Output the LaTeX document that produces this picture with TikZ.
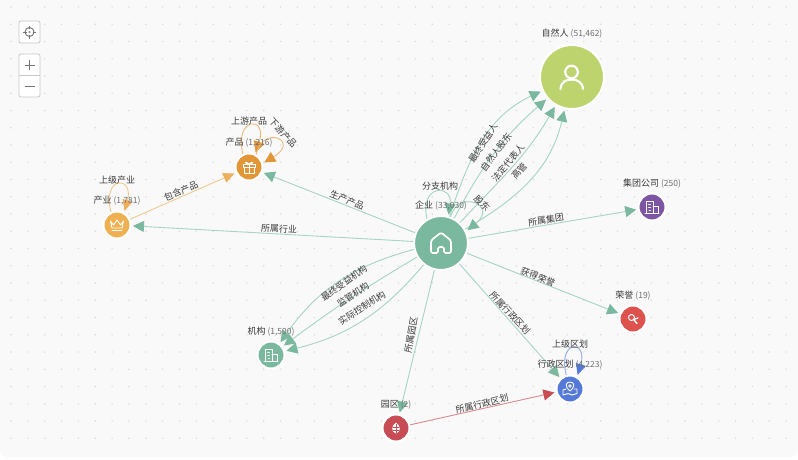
\documentclass[tikz,border=0pt]{standalone}
\usepackage{fontspec}
\setmainfont{Noto Sans CJK SC}
\usetikzlibrary{arrows.meta}
\definecolor{bgc}{HTML}{F9F9F9}
\definecolor{dotc}{HTML}{DADADA}
\definecolor{txt}{HTML}{3A3A3A}
\definecolor{cnt}{HTML}{707070}
\definecolor{gline}{HTML}{A6D5C2}
\definecolor{gtip}{HTML}{7AB8A0}
\definecolor{oline}{HTML}{F3C98F}
\definecolor{otip}{HTML}{EDB05A}
\definecolor{pline}{HTML}{EDB878}
\definecolor{ptip}{HTML}{E19638}
\definecolor{bline}{HTML}{93ABEA}
\definecolor{btip}{HTML}{5579D8}
\definecolor{rline}{HTML}{DB8A8F}
\definecolor{rtip}{HTML}{C84C54}
\definecolor{cPerson}{HTML}{BCD36E}
\definecolor{cProd}{HTML}{E19638}
\definecolor{cInd}{HTML}{EEB050}
\definecolor{cPark}{HTML}{C84C54}
\definecolor{cReg}{HTML}{5579D8}
\definecolor{cGrp}{HTML}{7D55A3}
\definecolor{cHon}{HTML}{DD524C}
\tikzset{
  ent/.style={circle,draw=white,line width=2pt,inner sep=0pt,minimum size=#1},
  nlab/.style={font=\fontsize{9}{10}\selectfont,text=txt,inner sep=0pt},
  elab/.style={font=\fontsize{9}{10}\selectfont,text=txt,inner sep=0pt},
  link/.style={line width=0.9pt,shorten >=1.5pt},
  gedge/.style={link,draw=gline,-{Triangle[length=11pt,width=11pt,fill=gtip,color=gtip]}},
  oedge/.style={link,draw=oline,-{Triangle[length=11pt,width=10pt,fill=otip,color=otip]}},
  pedge/.style={link,draw=pline,-{Triangle[length=11pt,width=11pt,fill=ptip,color=ptip]}},
  bedge/.style={link,draw=bline,-{Triangle[length=11pt,width=10pt,fill=btip,color=btip]}},
  redge/.style={link,draw=rline,-{Triangle[length=11pt,width=11pt,fill=rtip,color=rtip]}},
  icon/.style={draw=white,line width=1.2pt,line join=round,line cap=round,fill=none},
  ctrl/.style={draw=black!22,fill=white,rounded corners=2pt,line width=0.8pt},
  ctrlmark/.style={draw=black!55,line width=0.9pt}
}
\newcommand{\nl}[2]{#1 {\color{cnt}\fontsize{8.5}{10}\selectfont (#2)}}
\begin{document}
\begin{tikzpicture}[x=1pt,y=-1pt]
\useasboundingbox (0,0) rectangle (798,459);
\fill[white] (0,0) rectangle (798,459);
\fill[bgc,rounded corners=8pt] (0,-10) rectangle (798,457);
\foreach \i in {0,...,46}{\foreach \j in {0,...,25}{
  \fill[dotc] ({11+16.85*\i},{7+17.25*\j}) circle (0.8);
}}
% controls
\filldraw[ctrl] (19,21) rectangle (40,43);
\draw[ctrlmark] (29.5,32) circle (4.5);
\fill[black!45] (29.5,32) circle (1.2);
\draw[ctrlmark] (29.5,25.5)--(29.5,29) (29.5,35)--(29.5,38.5) (23,32)--(26.5,32) (32.5,32)--(36,32);
\filldraw[ctrl] (19,54) rectangle (40,97);
\draw[draw=black!22,line width=0.8pt] (19,75.5)--(40,75.5);
\draw[ctrlmark] (24.5,65)--(34.5,65) (29.5,60)--(29.5,70);
\draw[ctrlmark] (24.5,86.5)--(34.5,86.5);
% nodes
\node[ent=64pt,fill=cPerson] (pe) at (572,77) {};
\node[ent=54pt,fill=gtip] (co) at (441,243) {};
\node[ent=27pt,fill=cProd] (pr) at (249,167) {};
\node[ent=27pt,fill=cInd] (in) at (117,225) {};
\node[ent=27pt,fill=gtip] (or) at (271,355) {};
\node[ent=27pt,fill=cPark] (pa) at (396,428) {};
\node[ent=27pt,fill=cReg] (re) at (570,389) {};
\node[ent=27pt,fill=cGrp] (gr) at (652,207) {};
\node[ent=27pt,fill=cHon] (ho) at (633,319) {};
% icons
\begin{scope}[shift={(pe.center)}]
\draw[icon,line width=2.2pt] (-0.5,-5) circle (6.3);
\draw[icon,line width=2.2pt] (-11.5,12) .. controls (-11,5) and (-6,2.5) .. (-0.5,2.5) .. controls (5,2.5) and (10.5,5) .. (11,12);
\end{scope}
\begin{scope}[shift={(co.center)}]
\draw[icon,line width=1.7pt,rounded corners=1.5pt] (-3,10) -- (-10,10) -- (-10,-2.5) -- (0,-10.5) -- (10,-2.5) -- (10,10) -- (3,10) -- (3,4) -- (-3,4) -- cycle;
\end{scope}
\begin{scope}[shift={(pr.center)}]
\draw[icon,line width=0.9pt] (-6,-3) rectangle (6,0) (-5,0) rectangle (5,6.5) (0,-3)--(0,6.5);
\draw[icon,line width=0.9pt] (0,-3) .. controls (-5,-7) and (-5,-3) .. (0,-3) .. controls (5,-7) and (5,-3) .. (0,-3);
\end{scope}
\begin{scope}[shift={(in.center)}]
\draw[icon,line width=0.9pt] (-6.5,-4) -- (-3.5,0) -- (0,-5) -- (3.5,0) -- (6.5,-4) -- (5,3) -- (-5,3) -- cycle;
\draw[icon,line width=0.9pt] (-5,5.5) -- (5,5.5);
\end{scope}
\begin{scope}[shift={(or.center)}]
\draw[icon,line width=0.9pt] (-6,6.5) -- (-6,-6) -- (1,-6) -- (1,6.5) (1,-1) -- (6,-1) -- (6,6.5) (-7,6.5) -- (7,6.5) (-3.5,-3)--(-1.5,-3) (-3.5,0)--(-1.5,0) (-3,3)--(-1.5,3);
\end{scope}
\begin{scope}[shift={(gr.center)}]
\draw[icon,line width=0.9pt] (-6,6.5) -- (-6,-6) -- (1,-6) -- (1,6.5) (1,-1) -- (6,-1) -- (6,6.5) (-7,6.5) -- (7,6.5) (-3.5,-3)--(-1.5,-3) (-3.5,0)--(-1.5,0) (-3,3)--(-1.5,3);
\end{scope}
\begin{scope}[shift={(pa.center)}]
\fill[white] (0,-5.5) .. controls (-5,-2) and (-5,4) .. (0,5.5) .. controls (5,4) and (5,-2) .. (0,-5.5);
\draw[cPark,line width=0.6pt] (0,-4)--(0,5) (-3,-1)--(3,-1) (-3,2)--(3,2);
\end{scope}
\begin{scope}[shift={(re.center)}]
\draw[icon,line width=0.9pt] (0,2) .. controls (-6,-3) and (-4,-7) .. (0,-7) .. controls (4,-7) and (6,-3) .. (0,2);
\draw[icon,line width=0.8pt] (0,-3) circle (1.3);
\draw[icon,line width=0.9pt] (-4,0) -- (-7,1) -- (-7,6) -- (-2,4.5) -- (2,6) -- (7,4.5) -- (7,0) -- (4,0);
\end{scope}
\begin{scope}[shift={(ho.center)}]
\draw[icon,line width=1pt] (-1.5,-1.5) circle (3);
\draw[icon,line width=1.4pt] (0.5,0.5) -- (5,-1) (1,1) -- (4,4.5);
\end{scope}
% connectors: enterprise to person
\draw[gedge] (co) to[out=72,in=205] (pe);
\draw[gedge] (co) to[out=62,in=221] (pe);
\draw[gedge] (co) to[out=47,in=240] (pe);
\draw[gedge] (co) to[out=30,in=257] (pe);
% self loops
\draw[gedge] (co.120) .. controls +(-8,-35) and +(5,-32) .. (co.75);
\draw[gedge] (co.70) .. controls +(8,-28) and +(32,-26) .. (co.25);
\draw[pedge] (pr.115) .. controls +(-9,-38) and +(13,-38) .. (pr.65);
\draw[pedge] (pr.60) .. controls +(6,-30) and +(38,-23) .. (pr.15);
\draw[oedge] (in.115) .. controls +(-9,-37) and +(10,-37) .. (in.60);
\draw[bedge] (re.105) .. controls +(-9,-36) and +(11,-37) .. (re.60);
% straight and curved connectors
\draw[gedge] (co) -- (pr);
\draw[gedge] (co) -- (in);
\draw[gedge] (co) to[bend right=20] (or);
\draw[gedge] (co) to[bend right=3] (or);
\draw[gedge] (co) to[bend left=18] (or);
\draw[gedge] (co) -- (pa);
\draw[gedge] (co) -- (re);
\draw[gedge] (co) -- (gr);
\draw[gedge] (co) -- (ho);
\draw[oedge] (in) -- (pr);
\draw[redge] (pa) -- (re);
% node labels
\node[nlab] (lpe) at (572,34) {\nl{自然人}{51,462}};
\node[nlab] (lco) at (441,206) {\nl{企业}{33,030}};
\node[nlab] (lpr) at (249,143) {\nl{产品}{1,216}};
\node[nlab] (lin) at (117,201) {\nl{产业}{1,781}};
\node[nlab] (lor) at (271,332) {\nl{机构}{1,590}};
\node[nlab] (lpa) at (396,405) {\nl{园区}{2}};
\node[nlab] (lre) at (570,365) {\nl{行政区划}{4,223}};
\node[nlab] (lgr) at (652,184) {\nl{集团公司}{250}};
\node[nlab] (lho) at (633,296) {\nl{荣誉}{19}};
% connector labels
\node[elab,rotate=57] (e1) at (483,143) {最终受益人};
\node[elab,rotate=53] (e2) at (496,152) {自然人股东};
\node[elab,rotate=50] (e3) at (508,163) {法定代表人};
\node[elab,rotate=48] (e4) at (519,171) {高管};
\node[elab,rotate=-45] (e5) at (482,203) {股东};
\node[elab] (e6) at (440,186) {分支机构};
\node[elab,rotate=9] (e7) at (546,220) {所属集团};
\node[elab,rotate=-21] (e8) at (538,277) {获得荣誉};
\node[elab,rotate=-47] (e9) at (510,313) {所属行政区划};
\node[elab,rotate=80] (e10) at (411,335) {所属园区};
\node[elab,rotate=36] (e11) at (344,283) {最终受益机构};
\node[elab,rotate=33] (e12) at (353,295) {监管机构};
\node[elab,rotate=33] (e13) at (362,308) {实际控制机构};
\node[elab,rotate=-3] (e14) at (279,229) {所属行业};
\node[elab,rotate=-22] (e15) at (347,200) {生产产品};
\node[elab,rotate=23] (e16) at (181,191) {包含产品};
\node[elab] (e17) at (117,180) {上级产业};
\node[elab] (e18) at (249,121) {上游产品};
\node[elab,rotate=-48] (e19) at (283,133) {下游产品};
\node[elab] (e20) at (570,344) {上级区划};
\node[elab,rotate=14] (e21) at (482,404) {所属行政区划};
\end{tikzpicture}
\end{document}
